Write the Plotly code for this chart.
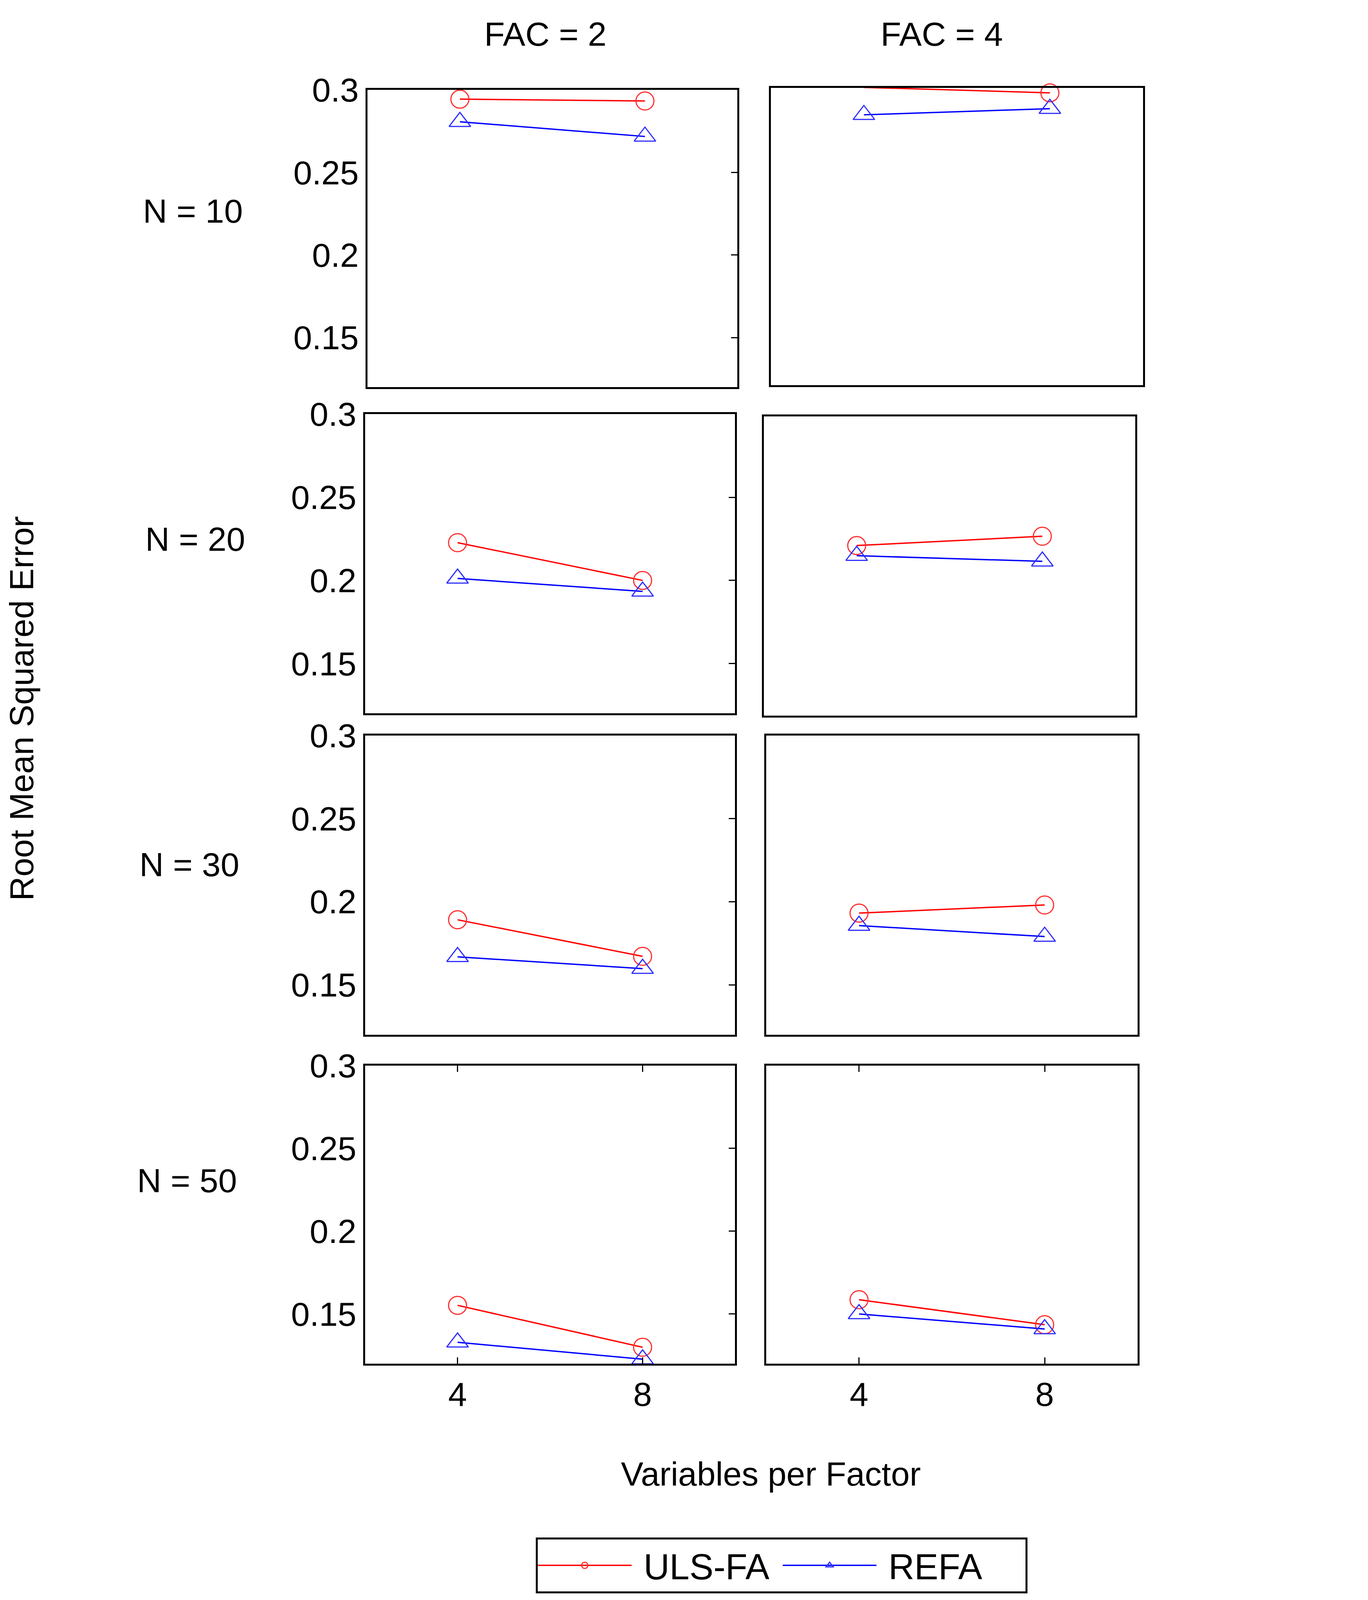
import plotly.graph_objects as go

# values (RMSE for each N / FAC panel, at 4 and 8 variables per factor)
vars_per_factor = [4, 8]
n_labels = ["N = 10", "N = 20", "N = 30", "N = 50"]
fac_labels = ["FAC = 2", "FAC = 4"]

uls_fa_fac2 = [[0.2944, 0.2933], [0.2227, 0.2000], [0.1891, 0.1671], [0.1552, 0.1299]]
uls_fa_fac4 = [[0.3003, 0.2970], [0.2222, 0.2278], [0.1931, 0.1980], [0.1586, 0.1435]]
refa_fac2 = [[0.2807, 0.2718], [0.2012, 0.1934], [0.1668, 0.1597], [0.1329, 0.1227]]
refa_fac4 = [[0.2837, 0.2874], [0.2161, 0.2127], [0.1856, 0.1790], [0.1500, 0.1409]]

y_range = [0.12, 0.3]
y_tickvals = [0.15, 0.2, 0.25, 0.3]
y_ticktext = ["0.15", "0.2", "0.25", "0.3"]

# reference canvas size, only used to turn pixel positions into paper fractions
W, H = 3503, 4653
FONT = "Liberation Sans, Arial, sans-serif"
FS = 86

# panel boxes in reference pixels: (left, right, top, bottom)
panels = [
    [(937, 1889, 201, 1079), (1975, 2932, 195, 1073)],
    [(931, 1883, 1159, 2043), (1957, 2912, 1165, 2049)],
    [(931, 1883, 2108, 2992), (1963, 2918, 2108, 2992)],
    [(931, 1883, 3083, 3964), (1963, 2918, 3083, 3964)],
]

uls = [uls_fa_fac2, uls_fa_fac4]
refa = [refa_fac2, refa_fac4]

fig = go.Figure()
layout_axes = {}

k = 0
for r in range(4):
    for c in range(2):
        k += 1
        xa = "x" if k == 1 else "x%d" % k
        ya = "y" if k == 1 else "y%d" % k
        left, right, top, bottom = panels[r][c]
        bottom_row = r == 3

        # left column: REFA sits on a right-hand twin axis (same range) that carries the ticks
        ya_refa = ya if c == 1 else "y%d" % (9 + r)

        fig.add_trace(go.Scatter(
            x=vars_per_factor, y=uls[c][r], xaxis=xa, yaxis=ya,
            mode="lines+markers", name="\u00a0ULS-FA", legendgroup="uls",
            showlegend=(k == 1), cliponaxis=False,
            line=dict(color="#ff0000", width=3.5),
            marker=dict(symbol="circle-open", size=46, color="#ff3030",
                        line=dict(width=3, color="#ff3030")),
        ))
        fig.add_trace(go.Scatter(
            x=vars_per_factor, y=refa[c][r], xaxis=xa, yaxis=ya_refa,
            mode="lines+markers", name="\u00a0REFA", legendgroup="refa",
            showlegend=(k == 1), cliponaxis=False,
            line=dict(color="#0000ff", width=3.5),
            marker=dict(symbol="triangle-up-open", size=48, color="#3030ff",
                        line=dict(width=3, color="#3030ff")),
        ))

        layout_axes["xaxis" if k == 1 else "xaxis%d" % k] = dict(
            domain=[left / W, right / W], anchor=ya, range=[2, 10],
            showline=True, linecolor="black", linewidth=5, mirror="ticks",
            showgrid=False, zeroline=False,
            tickvals=vars_per_factor if bottom_row else [],
            ticks="inside" if bottom_row else "", ticklen=16, tickwidth=3,
            tickcolor="black", showticklabels=bottom_row,
            ticklabelstandoff=0,
            tickfont=dict(family=FONT, size=FS, color="black"),
        )
        layout_axes["yaxis" if k == 1 else "yaxis%d" % k] = dict(
            domain=[1 - bottom / H, 1 - top / H], anchor=xa, range=y_range,
            showline=True, linecolor="black", linewidth=5, mirror=True,
            showgrid=False, zeroline=False,
            tickvals=y_tickvals, ticktext=y_ticktext, ticks="",
            showticklabels=(c == 0), ticklabelstandoff=0,
            tickfont=dict(family=FONT, size=FS, color="black"),
        )
        if c == 0:
            layout_axes["yaxis%d" % (9 + r)] = dict(
                overlaying=ya, anchor=xa, side="right", range=y_range,
                showline=False, showgrid=False, zeroline=False,
                tickvals=y_tickvals, ticks="inside", ticklen=16, tickwidth=3,
                tickcolor="black", showticklabels=False,
            )

annotations = []
col_centers = [1395, 2415]
for label, cx in zip(fac_labels, col_centers):
    annotations.append(dict(text=label, x=cx / W, y=1 - 36 / H, xref="paper", yref="paper",
                            xanchor="center", yanchor="middle", showarrow=False,
                            font=dict(family=FONT, size=FS, color="black")))

row_centers = [(488, 559), (494, 1528), (479, 2489), (473, 3423)]
for label, (cx, cy) in zip(n_labels, row_centers):
    annotations.append(dict(text=label, x=cx / W, y=1 - cy / H, xref="paper", yref="paper",
                            xanchor="center", yanchor="middle", showarrow=False,
                            font=dict(family=FONT, size=FS, color="black")))

annotations.append(dict(text="Root Mean Squared Error", x=48 / W, y=1 - 2028 / H,
                        xref="paper", yref="paper", xanchor="center", yanchor="middle",
                        textangle=-90, showarrow=False,
                        font=dict(family=FONT, size=FS, color="black")))
annotations.append(dict(text="Variables per Factor", x=1975 / W, y=1 - 4290 / H,
                        xref="paper", yref="paper", xanchor="center", yanchor="middle",
                        showarrow=False, font=dict(family=FONT, size=FS, color="black")))

fig.update_layout(
    autosize=True,
    margin=dict(l=0, r=0, t=0, b=0),
    paper_bgcolor="white", plot_bgcolor="white",
    font=dict(family=FONT, size=FS, color="black"),
    annotations=annotations,
    showlegend=True,
    legend=dict(orientation="h", x=2003 / W, y=1 - 4560 / H,
                xanchor="center", yanchor="middle",
                bordercolor="black", borderwidth=5, bgcolor="white",
                itemwidth=240, entrywidth=372, entrywidthmode="pixels",
                font=dict(family=FONT, size=92, color="black")),
    **layout_axes,
)

fig.write_html("out.html")
